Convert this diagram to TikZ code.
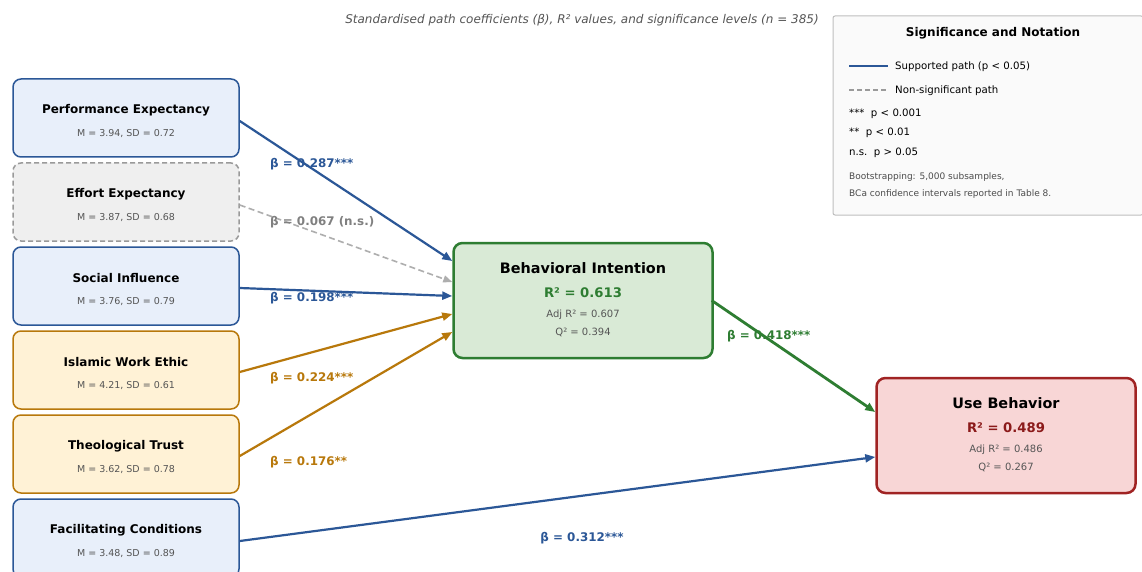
\documentclass[tikz,border=0pt]{standalone}
\usepackage{fontspec}
\setmainfont{DejaVu Sans}
\usetikzlibrary{arrows.meta}
\definecolor{cblue}{HTML}{2B5797}
\definecolor{fblue}{HTML}{E8EFFA}
\definecolor{cgray}{HTML}{9A9A9A}
\definecolor{fgray}{HTML}{EFEFEF}
\definecolor{corange}{HTML}{B8780B}
\definecolor{forange}{HTML}{FFF2D6}
\definecolor{cgreen}{HTML}{2E7D32}
\definecolor{fgreen}{HTML}{D9EAD6}
\definecolor{cred}{HTML}{A02323}
\definecolor{fred}{HTML}{F8D6D6}
\definecolor{tred}{HTML}{8B1A1A}
\definecolor{tgray}{HTML}{555555}
\begin{document}
\begin{tikzpicture}[x=1pt,y=-1pt,
  inbox/.style={draw=#1, line width=1.5pt, rounded corners=8pt, minimum width=226pt, minimum height=78pt, inner sep=0pt},
  bigbox/.style={draw=#1, line width=2.5pt, rounded corners=9pt, minimum width=259pt, minimum height=115pt, inner sep=0pt},
  ttl/.style={font=\fontsize{12}{14}\bfseries\selectfont, inner sep=0pt, yshift=-1pt},
  stat/.style={font=\fontsize{9.5}{11}\selectfont, text=tgray, inner sep=0pt, yshift=-1pt},
  bigttl/.style={font=\fontsize{14.4}{16}\bfseries\selectfont, inner sep=0pt, yshift=-1pt},
  rsq/.style={font=\fontsize{13.2}{15}\bfseries\selectfont, inner sep=0pt, yshift=-1pt},
  adj/.style={font=\fontsize{10}{12}\selectfont, text=tgray, inner sep=0pt, yshift=-1pt},
  beta/.style={font=\fontsize{11.9}{14}\bfseries\selectfont, inner sep=0pt, anchor=west, yshift=-1pt},
  path/.style={line width=2.2pt, -{Triangle[length=10pt,width=8pt]}},
  leg/.style={font=\fontsize{10.2}{12}\selectfont, inner sep=0pt, anchor=west, yshift=-1pt},
  legs/.style={font=\fontsize{9}{11}\selectfont, text=tgray!90!black, inner sep=0pt, anchor=west, yshift=-1pt}
]
\clip (0,0) rectangle (1142,572);
\fill[white] (0,0) rectangle (1142,572);

% title
\node[font=\fontsize{12}{14}\itshape\selectfont, text=tgray, inner sep=0pt, yshift=-1pt] (title) at (582,19) {Standardised path coefficients (β), R² values, and significance levels (n = 385)};

% legend
\node[draw=black!25, fill=black!2, line width=1pt, rounded corners=2pt, minimum width=310pt, minimum height=199pt, inner sep=0pt] (legend) at (988,115.5) {};
\node[font=\fontsize{12}{14}\bfseries\selectfont, inner sep=0pt, yshift=-1pt] (legtitle) at (993,32) {Significance and Notation};
\coordinate (l1a) at (849,66); \coordinate (l1b) at (888,66);
\draw[cblue, line width=2.5pt] (l1a) -- (l1b);
\node[leg] (leg1) at (895,66) {Supported path (p < 0.05)};
\coordinate (l2a) at (849,90); \coordinate (l2b) at (888,90);
\draw[cgray, line width=1.5pt, dash pattern=on 5pt off 3pt] (l2a) -- (l2b);
\node[leg] (leg2) at (895,90) {Non-significant path};
\node[leg] (leg3) at (849,113) {***\ \ p < 0.001};
\node[leg] (leg4) at (849,132) {**\ \ p < 0.01};
\node[leg] (leg5) at (849,152) {n.s.\ \ p > 0.05};
\node[legs] (leg6) at (849,176) {Bootstrapping: 5,000 subsamples,};
\node[legs] (leg7) at (849,193) {BCa confidence intervals reported in Table 8.};

% input boxes
\node[inbox=cblue, fill=fblue] (PE) at (126,118) {};
\node[ttl] at (126,109) {Performance Expectancy};
\node[stat] at (126,133) {M = 3.94, SD = 0.72};

\node[inbox=cgray, fill=fgray, dashed, dash pattern=on 5pt off 3pt] (EE) at (126,202) {};
\node[ttl] at (126,193) {Effort Expectancy};
\node[stat] at (126,217) {M = 3.87, SD = 0.68};

\node[inbox=cblue, fill=fblue] (SI) at (126,286) {};
\node[ttl] at (126,277) {Social Influence};
\node[stat] at (126,301) {M = 3.76, SD = 0.79};

\node[inbox=corange, fill=forange] (IWE) at (126,370) {};
\node[ttl] at (126,361) {Islamic Work Ethic};
\node[stat] at (126,385) {M = 4.21, SD = 0.61};

\node[inbox=corange, fill=forange] (TT) at (126,454) {};
\node[ttl] at (126,445) {Theological Trust};
\node[stat] at (126,469) {M = 3.62, SD = 0.78};

\node[inbox=cblue, fill=fblue] (FC) at (126,538) {};
\node[ttl] at (126,529) {Facilitating Conditions};
\node[stat] at (126,553) {M = 3.48, SD = 0.89};

% BI box
\node[bigbox=cgreen, fill=fgreen] (BI) at (583,300.5) {};
\node[bigttl] at (583,267) {Behavioral Intention};
\node[rsq, text=cgreen] at (583,292) {R² = 0.613};
\node[adj] at (583,314) {Adj R² = 0.607};
\node[adj] at (583,331) {Q² = 0.394};

% UB box
\node[bigbox=cred, fill=fred] (UB) at (1006,435.5) {};
\node[bigttl] at (1006,402) {Use Behavior};
\node[rsq, text=tred] at (1006,427) {R² = 0.489};
\node[adj] at (1006,449) {Adj R² = 0.486};
\node[adj] at (1006,466) {Q² = 0.267};

% paths
\draw[path, cblue] ([yshift=-3pt]PE.east) -- ([yshift=39.5pt]BI.west);
\draw[path, cgray!80, line width=1.6pt, dash pattern=on 6pt off 3.5pt, -{Triangle[length=9pt,width=7pt]}] ([yshift=-3pt]EE.east) -- ([yshift=18.5pt]BI.west);
\draw[path, cblue] ([yshift=-2pt]SI.east) -- ([yshift=4.5pt]BI.west);
\draw[path, corange] ([yshift=-2pt]IWE.east) -- ([yshift=-13.5pt]BI.west);
\draw[path, corange] ([yshift=-2pt]TT.east) -- ([yshift=-31.5pt]BI.west);
\draw[path, cblue] ([yshift=-3pt]FC.east) -- ([yshift=-21.5pt]UB.west);
\draw[path, cgreen, line width=2.8pt] ([xshift=-2pt]BI.east) -- ([yshift=23.5pt]UB.west);

% beta labels
\node[beta, text=cblue] (b1) at (270,163) {β = 0.287***};
\node[beta, text=gray] (b2) at (270,221) {β = 0.067 (n.s.)};
\node[beta, text=cblue] (b3) at (270,297) {β = 0.198***};
\node[beta, text=corange] (b4) at (270,377) {β = 0.224***};
\node[beta, text=corange] (b5) at (270,461) {β = 0.176**};
\node[beta, text=cblue, anchor=center] (b6) at (582,537) {β = 0.312***};
\node[beta, text=cgreen] (b7) at (727,335) {β = 0.418***};
\end{tikzpicture}
\end{document}
